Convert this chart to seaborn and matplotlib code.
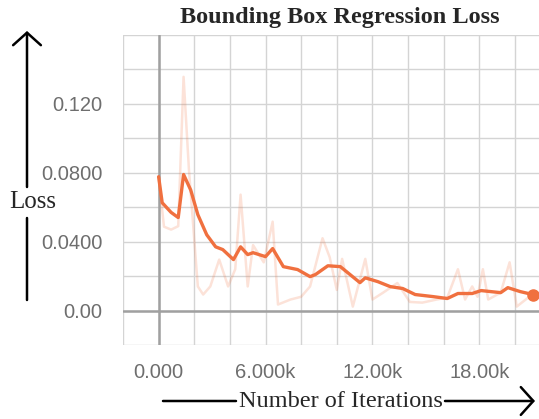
import matplotlib
matplotlib.use("Agg")
import matplotlib.pyplot as plt
import seaborn as sns
import pandas as pd

# smoothed curve (step, loss)
smooth_steps = [0, 200, 700, 1100, 1400, 1800, 2200, 2700, 3200, 3600, 4200, 4600, 5000, 5300,
                6000, 6400, 7000, 7800, 8500, 8800, 9500, 10200, 11300, 11600, 12300, 13000,
                13700, 14400, 15400, 16200, 16800, 17600, 18100, 19200, 19600, 20300, 21000]
smooth_loss = [0.0777, 0.0626, 0.057, 0.054, 0.079, 0.070, 0.0557, 0.044, 0.037, 0.0354, 0.0296,
               0.037, 0.0325, 0.0336, 0.0313, 0.036, 0.0255, 0.0238, 0.0197, 0.0209, 0.026, 0.0255,
               0.0162, 0.019, 0.0168, 0.0139, 0.0128, 0.0093, 0.0081, 0.007, 0.0099, 0.0099,
               0.0116, 0.0104, 0.0133, 0.011, 0.0093]

# raw (unsmoothed) curve
raw_steps = [0, 300, 700, 1100, 1400, 1700, 2200, 2500, 2900, 3400, 3900, 4300, 4600, 5000, 5300,
             5900, 6400, 6700, 7400, 8000, 8500, 9200, 9600, 10000, 10300, 10900, 11600, 12000,
             12600, 13400, 14100, 14800, 15600, 16200, 16800, 17200, 17600, 17900, 18200, 18500,
             19200, 19700, 20100, 20800, 21300]
raw_loss = [0.0777, 0.0487, 0.047, 0.049, 0.1357, 0.082, 0.014, 0.0093, 0.014, 0.0296, 0.014,
            0.024, 0.0673, 0.014, 0.038, 0.028, 0.0516, 0.0035, 0.0064, 0.008, 0.014, 0.042,
            0.031, 0.012, 0.03, 0.0023, 0.03, 0.0064, 0.0104, 0.016, 0.005, 0.0046, 0.0064,
            0.0075, 0.024, 0.0064, 0.014, 0.008, 0.024, 0.0064, 0.0104, 0.028, 0.0023, 0.008,
            0.0104]

y_ticks = [-0.02, 0.0, 0.02, 0.04, 0.06, 0.08, 0.10, 0.12, 0.14, 0.16]
y_labels = ["", "0.00", "", "0.0400", "", "0.0800", "", "0.120", "", ""]
x_ticks = [-2000, 0, 2000, 4000, 6000, 8000, 10000, 12000, 14000, 16000, 18000, 20000]
x_labels = ["", "0.000", "", "", "6.000k", "", "", "12.00k", "", "", "18.00k", ""]

df_s = pd.DataFrame({"step": smooth_steps, "loss": smooth_loss})
df_r = pd.DataFrame({"step": raw_steps, "loss": raw_loss})

sns.set_style("white")
plt.rcParams["font.family"] = ["Liberation Sans", "DejaVu Sans"]

W, H = 539, 419
fig = plt.figure(figsize=(W / 100, H / 100), dpi=100)
ax = fig.add_axes([123 / W, 1 - 345 / H, 1 - 123 / W, (345 - 35) / H])

col = "#f0703f"
sns.lineplot(data=df_r, x="step", y="loss", ax=ax, color=col, alpha=0.2, lw=1.8)
sns.lineplot(data=df_s, x="step", y="loss", ax=ax, color=col, lw=2.4)
ax.plot(smooth_steps[-1], smooth_loss[-1], "o", color=col, ms=8, zorder=5)

ax.axhline(0, color="#a0a0a0", lw=1.8, zorder=1)
ax.axvline(0, color="#a0a0a0", lw=1.8, zorder=1)

ax.set_xlim(-2000, 21350)
ax.set_ylim(-0.02, 0.16)
ax.set_xticks(x_ticks)
ax.set_xticklabels(x_labels)
ax.set_yticks(y_ticks)
ax.set_yticklabels(y_labels)
ax.grid(True, color="#d4d4d4", lw=1.0)
ax.set_axisbelow(True)
for s in ax.spines.values():
    s.set_visible(False)
ax.tick_params(axis="both", length=8, width=1.0, color="#d4d4d4",
               labelcolor="#6e6e6e", labelsize=14.5, pad=7)
ax.tick_params(axis="x", pad=5)
ax.set_xlabel("")
ax.set_ylabel("")

serif = ["Liberation Serif", "DejaVu Serif"]
fig.text(340 / W, 1 - 17 / H, "Bounding Box Regression Loss", ha="center", va="center",
         family=serif, fontweight="bold", fontsize=17.5)
fig.text(33 / W, 1 - 202 / H, "Loss", ha="center", va="center", family=serif, fontsize=18)
fig.text(341 / W, 1 - 401 / H, "Number of Iterations", ha="center", va="center",
         family=serif, fontsize=17.5)

def fpx(x, y):
    return (x / W, 1 - y / H)

arrow = dict(arrowstyle="->,head_length=0.45,head_width=0.5", color="black", lw=1.8,
             mutation_scale=20, shrinkA=0, shrinkB=0)
line = dict(arrowstyle="-", color="black", lw=1.8, shrinkA=0, shrinkB=0)
ax.annotate("", xy=fpx(27, 31), xytext=fpx(27, 187), xycoords="figure fraction", arrowprops=arrow)
ax.annotate("", xy=fpx(27, 300), xytext=fpx(27, 218), xycoords="figure fraction", arrowprops=line)
ax.annotate("", xy=fpx(163, 401), xytext=fpx(236, 401), xycoords="figure fraction", arrowprops=line)
ax.annotate("", xy=fpx(535, 401), xytext=fpx(445, 401), xycoords="figure fraction", arrowprops=arrow)

fig.savefig("out.png", dpi=100)
